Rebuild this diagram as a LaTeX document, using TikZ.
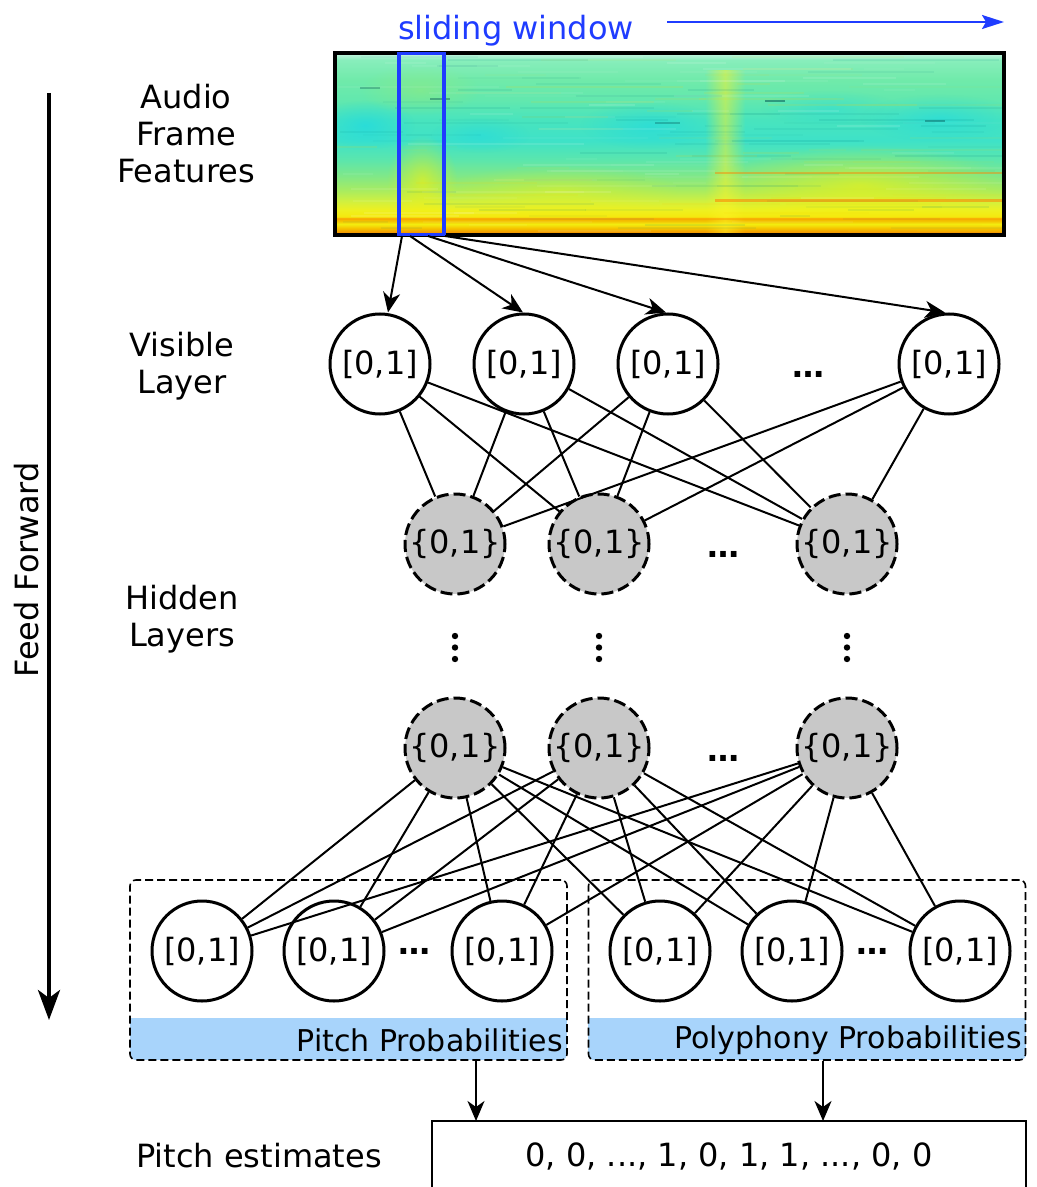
\documentclass[tikz,border=0pt]{standalone}
\usepackage{fontspec}
\setmainfont{DejaVu Sans}
\usetikzlibrary{arrows.meta,fadings}
\definecolor{winblue}{HTML}{1F3CFF}
\definecolor{hidgray}{HTML}{C8C8C8}
\definecolor{bandblue}{HTML}{A8D4FB}
\definecolor{spA}{HTML}{F29000}
\definecolor{spB}{HTML}{F6C400}
\definecolor{spC}{HTML}{F2EE10}
\definecolor{spD}{HTML}{F4B800}
\definecolor{spE}{HTML}{F4EA10}
\definecolor{spF}{HTML}{EEF020}
\definecolor{spG}{HTML}{D0F040}
\definecolor{spH}{HTML}{A8EC60}
\definecolor{spI}{HTML}{80E888}
\definecolor{spJ}{HTML}{5CE6AC}
\definecolor{spK}{HTML}{3EE2C8}
\definecolor{spL}{HTML}{48E4BE}
\definecolor{spM}{HTML}{62E8AE}
\definecolor{spN}{HTML}{70EAAA}
\definecolor{spO}{HTML}{88EEBC}
\definecolor{spP}{HTML}{B8F2D8}
\definecolor{cyanblob}{HTML}{18D8E8}
\pgfdeclareverticalshading{spec}{100bp}{color(0bp)=(spA); color(25bp)=(spA); color(26.4bp)=(spB); color(27.5bp)=(spC); color(28.6bp)=(spD); color(29.8bp)=(spE); color(31.5bp)=(spF); color(34bp)=(spG); color(37bp)=(spH); color(41bp)=(spI); color(45.5bp)=(spJ); color(51bp)=(spK); color(56.7bp)=(spL); color(62.4bp)=(spM); color(68bp)=(spN); color(73.6bp)=(spO); color(75bp)=(spP); color(100bp)=(spP)}
\tikzfading[name=fuzzy, inner color=transparent!0, outer color=transparent!100]
\tikzfading[name=vband, left color=transparent!100, right color=transparent!100, middle color=transparent!0]
\tikzset{
  every node/.style={font=\fontsize{16pt}{18.5pt}\selectfont},
  vis/.style={circle, draw, line width=1.5pt, minimum size=50pt, inner sep=0pt, fill=white},
  hid/.style={circle, draw, line width=1.5pt, dash pattern=on 6pt off 2.5pt, minimum size=50pt, inner sep=0pt, fill=hidgray},
  link/.style={line width=1pt},
  arr/.style={line width=1pt, -{Stealth[length=10pt,width=8.5pt,inset=3pt]}},
  probbox/.style={draw, line width=0.8pt, dash pattern=on 4pt off 2pt, rounded corners=3pt, minimum width=218.5pt, minimum height=90pt, inner sep=0pt},
  dots/.style={anchor=base, font=\fontsize{16pt}{18.5pt}\bfseries},
  vdot/.style={circle, fill=black, inner sep=0pt, minimum size=3.2pt},
  blob/.style={path fading=fuzzy},
  bandtext/.style={anchor=east, inner sep=0pt, font=\fontsize{15pt}{17pt}\selectfont},
}
\begin{document}
\begin{tikzpicture}[x=0.5pt, y=-0.5pt]
\useasboundingbox (0,0) rectangle (1037,1187);
\begin{scope}
\clip (0,0) rectangle (1037,1187);

% ---------- spectrogram ----------
\shade[shading=spec] (337,55) rectangle (1002,233);
\begin{scope}
\clip (337,55) rectangle (1002,233);
% soft blobs
\fill[cyanblob, opacity=0.6, blob] (365,125) ellipse (50 and 25);
\fill[cyanblob, opacity=0.4, blob] (480,135) ellipse (50 and 18);
\fill[cyanblob, opacity=0.5, blob] (650,125) ellipse (70 and 24);
\fill[cyanblob, opacity=0.5, blob] (940,118) ellipse (80 and 24);
\fill[cyanblob, opacity=0.35, blob] (830,108) ellipse (70 and 18);
\fill[spH, opacity=0.35, blob] (420,90) ellipse (60 and 25);
\fill[yellow, opacity=0.55, blob] (422,180) ellipse (35 and 45);
\fill[yellow, opacity=0.55, blob] (860,185) ellipse (150 and 40);
\fill[yellow, opacity=0.35, blob] (560,190) ellipse (120 and 25);
\fill[yellow!85!white, opacity=0.5, path fading=vband] (705,70) rectangle (745,233);
% horizontal streaks
\pgfmathsetseed{11}
\foreach \i in {0,...,58} {
  \pgfmathsetmacro\yy{57+\i*3}
  \foreach \k in {1,2,3} {
    \pgfmathsetmacro\xa{337+rnd*600}
    \pgfmathsetmacro\ln{30+rnd*150}
    \pgfmathsetmacro\op{0.03+rnd*0.09}
    \pgfmathsetmacro\cc{int(rnd*3)}
    \ifcase\cc\relax
      \draw[white, opacity=\op, line width=0.9pt] (\xa,\yy) -- (\xa+\ln,\yy);
    \or
      \draw[teal, opacity=\op, line width=0.9pt] (\xa,\yy) -- (\xa+\ln,\yy);
    \else
      \draw[yellow!70!orange, opacity=\op, line width=0.9pt] (\xa,\yy) -- (\xa+\ln,\yy);
    \fi
  }
}
\draw[orange, opacity=0.45, line width=1.2pt] (715,173) -- (1002,173);
\draw[orange, opacity=0.55, line width=1.5pt] (715,201) -- (1002,201);
\draw[orange, opacity=0.4, line width=1.2pt] (337,219) -- (1002,219);
\draw[teal!60!black, opacity=0.5, line width=1pt] (765,101) -- (785,101);
\draw[teal!60!black, opacity=0.4, line width=1pt] (430,99) -- (450,99);
\draw[teal!60!black, opacity=0.4, line width=1pt] (925,121) -- (945,121);
\draw[teal!60!black, opacity=0.3, line width=1pt] (655,123) -- (680,123);
\draw[teal!60!black, opacity=0.3, line width=1pt] (360,88) -- (380,88);
\end{scope}
\node[draw, line width=1.8pt, minimum width=334.5pt, minimum height=91pt, inner sep=0pt] (spec) at (669.5,144) {};
\node[draw=winblue, line width=1.6pt, minimum width=22.5pt, minimum height=90.5pt, inner sep=0pt] (win) at (421.5,144) {};

% sliding window
\node[text=winblue] (slw) at (516,31) {sliding window};
\coordinate (sl1) at (667,22);
\coordinate (sl2) at (1004,22);
\draw[winblue, line width=1pt, -{Stealth[length=11pt,width=7pt,inset=2pt]}] (sl1) -- (sl2);

% left labels
\node[align=center] (lab1) at (186,134) {Audio\\Frame\\Features};
\node[align=center] (lab2) at (182,366) {Visible\\Layer};
\node[align=center] (lab3) at (182,619) {Hidden\\Layers};
\node (lab4) at (259,1156) {Pitch estimates};
\node[rotate=90] (ffl) at (27,570) {Feed Forward};
\coordinate (ff1) at (49,93);
\coordinate (ff2) at (49,1020);
\draw[line width=2pt, -{Stealth[length=15pt,width=11pt,inset=4pt]}] (ff1) -- (ff2);

% visible layer
\node[vis] (v1) at (380,364) {[0,1]};
\node[vis] (v2) at (524,364) {[0,1]};
\node[vis] (v3) at (668,364) {[0,1]};
\node[vis] (v4) at (949,364) {[0,1]};
\node[dots] (vd) at (808,378) {…};

% hidden layer 1
\node[hid] (ha1) at (455,544) {\{0,1\}};
\node[hid] (ha2) at (599,544) {\{0,1\}};
\node[hid] (ha3) at (847,544) {\{0,1\}};
\node[dots] (had) at (723,557) {…};

% vertical dots
\foreach \x/\n in {455/a,599/b,847/c} {
  \node[vdot] (\n1) at (\x,636) {};
  \node[vdot] (\n2) at (\x,647.5) {};
  \node[vdot] (\n3) at (\x,659) {};
}

% hidden layer 2
\node[hid] (hb1) at (455,748) {\{0,1\}};
\node[hid] (hb2) at (599,748) {\{0,1\}};
\node[hid] (hb3) at (847,748) {\{0,1\}};
\node[dots] (hbd) at (723,761) {…};

% output boxes
\begin{scope}
\clip[rounded corners=3pt] (130,880) rectangle (567,1060);
\fill[bandblue] (130,1018) rectangle (567,1060);
\end{scope}
\begin{scope}
\clip[rounded corners=3pt] (588,880) rectangle (1026,1060);
\fill[bandblue] (588,1018) rectangle (1026,1060);
\end{scope}
\node[probbox] (pbox) at (348.5,970) {};
\node[probbox] (qbox) at (807,970) {};
\node[bandtext] (pt1) at (563,1040) {Pitch Probabilities};
\node[bandtext] (pt2) at (1022,1040) {Polyphony Probabilities};

% output nodes
\node[vis] (o1) at (202,951) {[0,1]};
\node[vis] (o2) at (334,951) {[0,1]};
\node[vis] (o3) at (502,951) {[0,1]};
\node[vis] (o4) at (660,951) {[0,1]};
\node[vis] (o5) at (792,951) {[0,1]};
\node[vis] (o6) at (960,951) {[0,1]};
\node[dots] (od1) at (414,954) {…};
\node[dots] (od2) at (872,954) {…};

% connections
\coordinate (s1) at (402,236);
\coordinate (s2) at (410,236);
\coordinate (s3) at (428,236);
\coordinate (s4) at (445,236);
\draw[arr] (s1) -- ([xshift=4pt]v1.north);
\draw[arr] (s2) -- ([xshift=-0.5pt]v2.north);
\draw[arr] (s3) -- ([xshift=-1pt]v3.north);
\draw[arr] (s4) -- ([xshift=-2pt]v4.north);

\foreach \v in {v1,v2,v3,v4} {
  \foreach \h in {ha1,ha2,ha3} {
    \draw[link] (\v) -- (\h);
  }
}
\foreach \h in {hb1,hb2,hb3} {
  \foreach \o in {o1,o2,o3,o4,o5,o6} {
    \draw[link] (\h) -- (\o);
  }
}

% estimates
\node[draw, line width=0.8pt, minimum width=297pt, minimum height=35pt, inner sep=0pt] (est) at (729,1156) {0, 0, ..., 1, 0, 1, 1, ..., 0, 0};
\coordinate (pa1) at (476,1061);
\coordinate (pa2) at (476,1121);
\coordinate (qa1) at (823,1061);
\coordinate (qa2) at (823,1121);
\draw[arr] (pa1) -- (pa2);
\draw[arr] (qa1) -- (qa2);
\end{scope}
\end{tikzpicture}
\end{document}
